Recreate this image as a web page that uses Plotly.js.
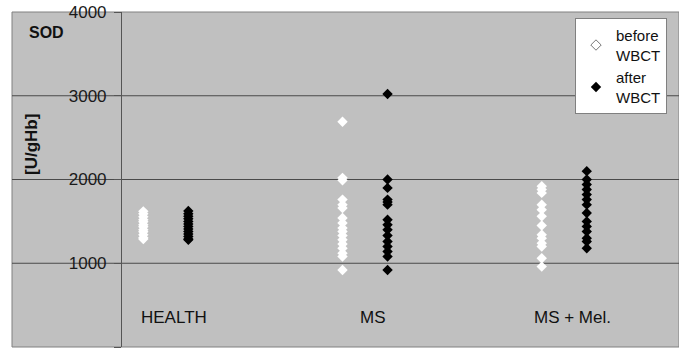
<!DOCTYPE html>
<html><head><meta charset="utf-8">
<script src="https://cdn.plot.ly/plotly-3.0.1.min.js"></script>
<style>html,body{margin:0;padding:0;background:#fff}#chart{width:679px;height:348px}</style>
</head><body><div id="chart"></div>
<script>
const categories = ['HEALTH', 'MS', 'MS + Mel.'];
const seriesNames = ['before<br>WBCT', 'after<br>WBCT'];
const yTickValues = [0, 1000, 2000, 3000, 4000];
const yTickLabels = ['0', '1000', '2000', '3000', '4000'];

const healthBefore = [1620, 1590, 1555, 1520, 1495, 1460, 1435, 1400, 1375, 1340, 1305, 1290];
const healthAfter  = [1625, 1590, 1560, 1530, 1500, 1470, 1440, 1410, 1380, 1350, 1320, 1290, 1280];
const msBefore     = [2690, 2020, 1990, 1760, 1700, 1660, 1540, 1480, 1420, 1380, 1330, 1280, 1230, 1180, 1120, 1080, 920];
const msAfter      = [3020, 2000, 1900, 1760, 1730, 1700, 1520, 1460, 1400, 1330, 1260, 1200, 1140, 1080, 920];
const melBefore    = [1920, 1880, 1840, 1700, 1640, 1560, 1450, 1340, 1300, 1240, 1200, 1060, 960];
const melAfter     = [2100, 2000, 1940, 1880, 1820, 1760, 1700, 1600, 1500, 1440, 1380, 1300, 1260, 1180];

const beforeGroups = [healthBefore, msBefore, melBefore];
const afterGroups  = [healthAfter, msAfter, melAfter];

const OFFSET = 0.113;
const FONT = 'Liberation Sans, Arial, sans-serif';

function groupTrace(groups, shift, color) {
  const x = [], y = [];
  groups.forEach((vals, i) => vals.forEach(v => { x.push(i + 1 + shift); y.push(v); }));
  return {type: 'scatter', mode: 'markers', x, y, showlegend: false, hoverinfo: 'y',
    marker: {symbol: 'diamond', size: 8, color}};
}

const traces = [
  groupTrace(beforeGroups, -OFFSET, '#ffffff'),
  groupTrace(afterGroups, OFFSET, '#000000'),
  {type: 'scatter', mode: 'markers', x: [null], y: [null], name: seriesNames[0], showlegend: true,
    marker: {symbol: 'diamond-open', size: 8, color: '#777777', line: {width: 1}}},
  {type: 'scatter', mode: 'markers', x: [null], y: [null], name: seriesNames[1], showlegend: true,
    marker: {symbol: 'diamond', size: 8, color: '#000000'}}
];

const shapes = [
  {type: 'rect', xref: 'paper', yref: 'paper', x0: 0, x1: 1, y0: 0, y1: 1, layer: 'below',
    fillcolor: '#c0c0c0', line: {color: '#808080', width: 1}}
];
yTickValues.slice(1, -1).forEach(v => shapes.push({type: 'line', xref: 'paper', yref: 'y',
  x0: 0, x1: 1, y0: v, y1: v, layer: 'below', line: {color: '#4a4a4a', width: 1}}));

const annotations = categories.map((c, i) => ({
  x: i + 1, y: 350, xref: 'x', yref: 'y', text: c, showarrow: false, xshift: 8,
  xanchor: 'center', yanchor: 'middle',
  font: {family: FONT, size: 17, color: '#111'}
}));
annotations.push({xref: 'paper', yref: 'paper', x: 0.051, y: 0.939, text: '<b>SOD</b>', showarrow: false,
  xanchor: 'center', yanchor: 'middle', font: {family: FONT, size: 16, color: '#111'}});
annotations.push({xref: 'paper', yref: 'paper', x: 0.030, y: 0.603, text: '<b>[U/gHb]</b>', showarrow: false,
  xanchor: 'center', yanchor: 'middle', textangle: -90, font: {family: FONT, size: 17, color: '#111'}});

const layout = {
  width: 679, height: 348,
  margin: {l: 12, r: 0, t: 12, b: 1, pad: 0},
  paper_bgcolor: '#ffffff', plot_bgcolor: 'rgba(0,0,0,0)',
  font: {family: FONT, color: '#111'},
  xaxis: {domain: [0.1649, 1], range: [0.780, 3.576], showticklabels: false, showgrid: false,
    zeroline: false, showline: false, ticks: ''},
  yaxis: {range: [0, 4000], tickvals: yTickValues, ticktext: yTickLabels, showgrid: false, zeroline: false,
    showline: true, linecolor: '#555', linewidth: 1, ticks: 'outside', ticklen: 7, tickcolor: '#555',
    ticklabelstandoff: 4, tickfont: {family: FONT, size: 17, color: '#1a1a1a'}},
  legend: {x: 0.982, xanchor: 'right', y: 0.982, yanchor: 'top', bgcolor: '#ffffff',
    bordercolor: '#808080', borderwidth: 1, font: {family: FONT, size: 15, color: '#111'},
    itemwidth: 30, tracegroupgap: 0},
  shapes, annotations
};

Plotly.newPlot('chart', traces, layout, {staticPlot: true});
</script></body></html>
